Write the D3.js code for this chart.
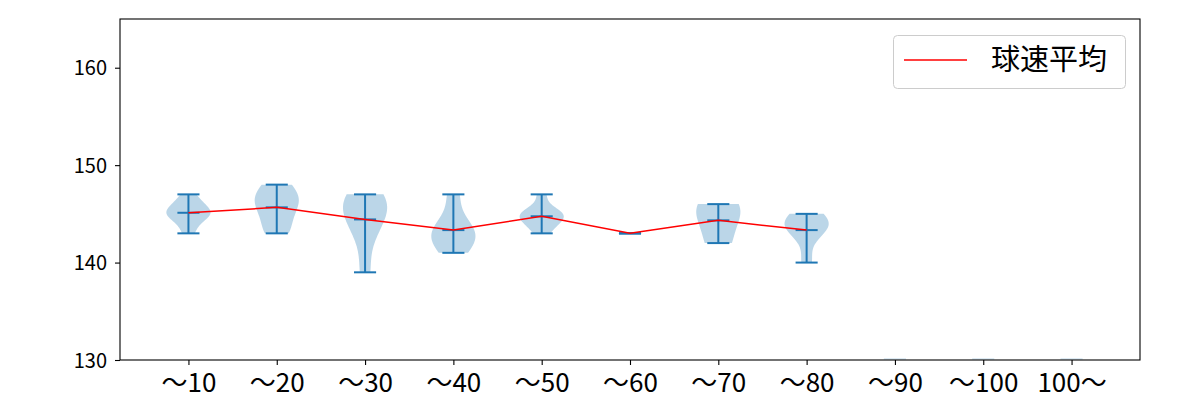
<!DOCTYPE html>
<html><head><meta charset="utf-8">
<script src="https://cdn.jsdelivr.net/npm/d3@7"></script>
<style>body{margin:0;background:#fff}svg{display:block}text{font-family:"Noto Sans CJK JP","DejaVu Sans",sans-serif}</style>
</head><body><svg id="c" width="1200" height="400"></svg>
<script>
const categories = ["～10","～20","～30","～40","～50","～60","～70","～80","～90","～100","100～"];
const samples10 = [143,144,145,145,145,145,146,146,147];
const samples20 = [143,144,146,146,147,148];
const samples30 = [139,143,144,146,146,146,147];
const samples40 = [141,142,143,143,144,147];
const samples50 = [143,144,144,145,145,145,145,147];
const samples60 = [143];
const samples70 = [142,145,146];
const samples80 = [140,143,144,144,144,145];
const samples90 = [];
const samples100 = [];
const samples100p = [];
const allSamples = [samples10,samples20,samples30,samples40,samples50,samples60,samples70,samples80,samples90,samples100,samples100p];
const yTicks = [130,140,150,160];
const legendLabel = "球速平均";

const svg = d3.select("#c");
const L=120,R=1140,T=19,B=360;
const x = d3.scaleLinear().domain([0.225,11.775]).range([L,R]);
const y = d3.scaleLinear().domain([130,165]).range([B,T]);
const blue="#1f77b4";

function kde(data){
  const n=data.length, m=d3.mean(data);
  const sd=Math.sqrt(d3.sum(data,v=>(v-m)*(v-m))/(n-1));
  const bw=sd*Math.pow(n,-0.2);
  const lo=d3.min(data), hi=d3.max(data);
  const pts=d3.range(100).map(i=>lo+(hi-lo)*i/99);
  return pts.map(p=>[p,d3.sum(data,v=>Math.exp(-0.5*((p-v)/bw)**2))]);
}

const g=svg.append("g");
g.append("defs").append("clipPath").attr("id","clip").append("rect").attr("x",L).attr("y",T).attr("width",R-L).attr("height",B-T);
const plot=g.append("g").attr("clip-path","url(#clip)");

const stats=[];
allSamples.forEach((d,i)=>{
  const pos=i+1;
  if(d.length===0){
    plot.append("line").attr("x1",x(pos-0.125)).attr("x2",x(pos+0.125))
      .attr("y1",y(130)-1).attr("y2",y(130)-1).attr("stroke",blue).attr("stroke-opacity",0.15).attr("stroke-width",2);
    return;
  }
  const mn=d3.min(d), mx=d3.max(d), me=d3.mean(d);
  stats.push({pos,me});
  if(d.length>1 && mx>mn){
    const k=kde(d); const dm=d3.max(k,v=>v[1]);
    const area=d3.area().y(v=>y(v[0])).x0(v=>x(pos-0.25*v[1]/dm)).x1(v=>x(pos+0.25*v[1]/dm));
    plot.append("path").attr("d",area(k)).attr("fill",blue).attr("fill-opacity",0.3);
  }
  [mn,mx,me].forEach(v=>{
    plot.append("line").attr("x1",x(pos-0.125)).attr("x2",x(pos+0.125)).attr("y1",y(v)).attr("y2",y(v))
      .attr("stroke",blue).attr("stroke-width",2);
  });
  plot.append("line").attr("x1",x(pos)).attr("x2",x(pos)).attr("y1",y(mn)).attr("y2",y(mx)).attr("stroke",blue).attr("stroke-width",2);
});

plot.append("path").attr("d",d3.line().x(s=>x(s.pos)).y(s=>y(s.me))(stats))
  .attr("fill","none").attr("stroke","red").attr("stroke-width",1.5);

// axes
const xa=g.append("g").attr("transform",`translate(0,${B})`)
  .call(d3.axisBottom(x).tickValues(d3.range(1,12)).tickFormat(i=>categories[i-1]).tickSize(5).tickPadding(4));
const ya=g.append("g").attr("transform",`translate(${L},0)`)
  .call(d3.axisLeft(y).tickValues(yTicks).tickSize(5).tickPadding(8));
[xa,ya].forEach(a=>{a.select(".domain").remove();a.selectAll("line").attr("stroke","#000").attr("stroke-width",1.1);
  a.selectAll("text").attr("fill","#000");});
xa.selectAll("text").attr("font-size",26).attr("y",32).attr("dy",0);
ya.selectAll("text").attr("font-size",20).attr("dy","0.36em");
g.append("rect").attr("x",L).attr("y",T).attr("width",R-L).attr("height",B-T).attr("fill","none").attr("stroke","#000").attr("stroke-width",1.1);

// legend
const lg=g.append("g");
lg.append("rect").attr("x",893.5).attr("y",35.5).attr("width",232).attr("height",53).attr("rx",4)
  .attr("fill","#fff").attr("fill-opacity",0.8).attr("stroke","#ccc");
lg.append("line").attr("x1",904).attr("x2",967).attr("y1",60).attr("y2",60).attr("stroke","red").attr("stroke-width",1.5);
lg.append("text").attr("x",991).attr("y",60).attr("dy","0.36em").attr("font-size",29).text(legendLabel);
</script></body></html>
